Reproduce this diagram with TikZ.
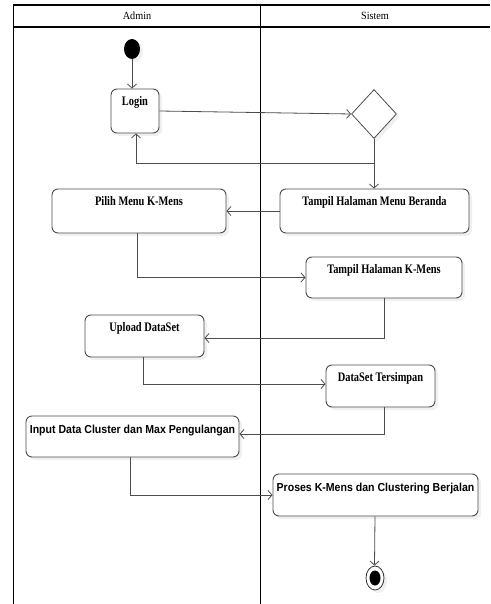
\documentclass[tikz,border=0pt]{standalone}
\usepackage{fontspec}
\usepackage{graphicx}
\setmainfont{Liberation Serif}
\newfontfamily\arialf{Liberation Sans}
\newcommand{\sqz}[2]{\scalebox{#1}[1]{#2}}
\usetikzlibrary{arrows.meta,shapes.geometric,shadows,calc}
\begin{document}
\begin{tikzpicture}[x=1pt,y=-1pt,
  lane/.style={line width=1.6pt,black},
  act/.style={draw=black!70,line width=0.9pt,rounded corners=6pt,fill=white,
     drop shadow={shadow xshift=3pt,shadow yshift=-3pt,opacity=0.12}},
  acttext/.style={font=\fontsize{13}{15}\selectfont\bfseries,anchor=base,inner sep=0pt},
  sanstext/.style={font=\arialf\fontsize{11.6}{14}\selectfont\bfseries,anchor=base,inner sep=0pt},
  flow/.style={draw=black!70,line width=0.8pt,-{Straight Barb[length=4pt,width=9pt]}},
  hdr/.style={font=\fontsize{11}{13}\selectfont,anchor=base,inner sep=0pt}]
\useasboundingbox (0,0) rectangle (490,604);
% swimlanes
\draw[lane] (13.5,604) -- (13.5,5) -- (490,5);
\draw[lane] (13.5,27) -- (490,27);
\draw[lane] (260.5,5) -- (260.5,604);
\node[hdr] (hadmin) at (137,19.5) {\sqz{0.93}{Admin}};
\node[hdr] (hsistem) at (375,19.5) {\sqz{0.93}{Sistem}};
% nodes
\node[ellipse,fill=black,minimum width=16pt,minimum height=20pt,inner sep=0pt,
  drop shadow={shadow xshift=3pt,shadow yshift=-3pt,opacity=0.12}] (start) at (132,49) {};
\node[act,minimum width=48pt,minimum height=44pt] (login) at (135,111) {};
\node[acttext] at ($(login.north)+(0,16.5)$) {\sqz{0.8}{Login}};
\node[diamond,draw=black!70,line width=0.8pt,fill=white,minimum width=45pt,minimum height=49pt,inner sep=0pt,aspect=0.9,
  drop shadow={shadow xshift=3pt,shadow yshift=-3pt,opacity=0.12}] (dec) at (374,114) {};
\node[act,minimum width=189pt,minimum height=44pt] (beranda) at (374.5,211) {};
\node[acttext] at ($(beranda.north)+(0,17)$) {\sqz{0.8}{Tampil Halaman Menu Beranda}};
\node[act,minimum width=174pt,minimum height=44pt] (pilih) at (139,211) {};
\node[acttext] at ($(pilih.north)+(0,17)$) {\sqz{0.8}{Pilih Menu K-Mens}};
\node[act,minimum width=156pt,minimum height=41pt] (tkmens) at (384,277.5) {};
\node[acttext] at ($(tkmens.north)+(0,17)$) {\sqz{0.8}{Tampil Halaman K-Mens}};
\node[act,minimum width=119pt,minimum height=42pt] (upload) at (144.5,336) {};
\node[acttext] at ($(upload.north)+(0,17)$) {\sqz{0.8}{Upload DataSet}};
\node[act,minimum width=109pt,minimum height=42pt] (simpan) at (380.5,386) {};
\node[acttext] at ($(simpan.north)+(0,17)$) {\sqz{0.8}{DataSet Tersimpan}};
\node[act,minimum width=213pt,minimum height=41pt] (input) at (132.5,436.5) {};
\node[sanstext] at ($(input.north)+(0,18)$) {\sqz{0.91}{Input Data Cluster dan Max Pengulangan}};
\node[act,minimum width=205pt,minimum height=42pt] (proses) at (375.5,495) {};
\node[sanstext] at ($(proses.north)+(0,18)$) {\sqz{0.91}{Proses K-Mens dan Clustering Berjalan}};
\node[ellipse,draw=black!80,line width=0.8pt,fill=white,minimum width=18pt,minimum height=24pt,inner sep=0pt,
  drop shadow={shadow xshift=3pt,shadow yshift=-3pt,opacity=0.12}] (end) at (375,578) {};
\node[ellipse,fill=black,minimum width=11pt,minimum height=15pt,inner sep=0pt] (endin) at (375,578) {};
% connectors
\draw[flow] (start.south) -- (start.south |- login.north);
\draw[flow] (login.east) -- (dec.west);
\coordinate (loopc) at (374,163);
\draw[flow] (dec.south) -- (loopc) -| ([xshift=1pt]login.south);
\draw[flow] (dec.south) -- (dec.south |- beranda.north);
\draw[flow] (beranda.west) -- (pilih.east);
\draw[flow] ([xshift=-2pt]pilih.south) |- (tkmens.west);
\draw[flow] (tkmens.south) |- ([yshift=-2pt]upload.east);
\draw[flow] ([xshift=-1.5pt]upload.south) |- ([yshift=2pt]simpan.west);
\draw[flow] ([xshift=3.5pt]simpan.south) |- ([yshift=2.5pt]input.east);
\draw[flow] ([xshift=-2.5pt]input.south) |- (proses.west);
\draw[flow] ([xshift=-0.5pt]proses.south) -- ([xshift=-0.5pt]end.north);
\end{tikzpicture}
\end{document}
